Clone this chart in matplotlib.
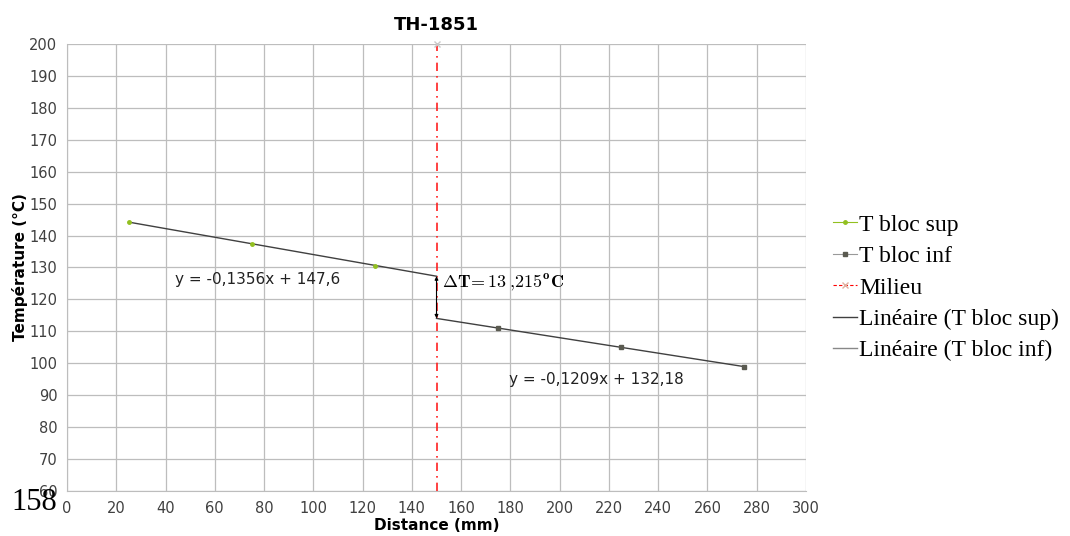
import matplotlib
matplotlib.use("Agg")
import matplotlib.pyplot as plt
from matplotlib.lines import Line2D
import numpy as np

# data
x_sup = [25, 75, 125]
t_sup = [144.2, 137.4, 130.6]
x_inf = [175, 225, 275]
t_inf = [111.0, 105.0, 98.9]
x_milieu = 150
fit_sup = (-0.1356, 147.6)
fit_inf = (-0.1209, 132.18)
x_ticks = list(range(0, 301, 20))
y_ticks = list(range(60, 201, 10))

plt.rcParams['mathtext.fontset'] = 'cm'

fig = plt.figure(figsize=(10.7, 5.36), dpi=100)
ax = fig.add_axes([0.0626, 0.084, 0.6907, 0.834])

c_sup = '#92c020'
c_inf = '#5a5a50'
c_fit = '#404040'

ax.plot(x_sup, t_sup, color=c_sup, marker='o', markersize=2.5,
        linestyle='none', zorder=4)
ax.plot(x_inf, t_inf, color=c_inf, marker='s', markersize=3.5,
        linestyle='none', zorder=4)
ax.plot([x_milieu, x_milieu], [60, 200], color='#ff2020', linestyle=(0, (5, 3, 1, 3)),
        lw=1.2, zorder=3)
ax.plot([x_milieu], [200], marker='x', color='#c8c8c8', markersize=5,
        linestyle='none', zorder=5, clip_on=False)

# trend lines
xs = np.array([x_sup[0], x_milieu])
ax.plot(xs, fit_sup[0] * xs + fit_sup[1], color=c_fit, lw=1.0, zorder=3)
xi = np.array([x_milieu, x_inf[-1]])
ax.plot(xi, fit_inf[0] * xi + fit_inf[1], color=c_fit, lw=1.0, zorder=3)

# delta T arrow
y_top = fit_sup[0] * x_milieu + fit_sup[1]
y_bot = fit_inf[0] * x_milieu + fit_inf[1]
ax.annotate('', xy=(x_milieu, y_bot), xytext=(x_milieu, y_top),
            arrowprops=dict(arrowstyle='<|-|>', color='black', lw=0.8,
                            mutation_scale=5, shrinkA=0, shrinkB=0), zorder=6)
ax.text(152.2, 125.1, r'$\mathbf{\Delta T\!=13\;{,}215^{o}C}$', fontsize=13,
        va='center', ha='left', zorder=6)

ax.text(44, 126.3, 'y = -0,1356x + 147,6', fontsize=11, color='#222222',
        va='center')
ax.text(179.5, 94.8, 'y = -0,1209x + 132,18', fontsize=11, color='#222222',
        va='center')

ax.set_xlim(0, 300)
ax.set_ylim(60, 200)
ax.set_xticks(x_ticks)
ax.set_yticks(y_ticks)
ax.tick_params(length=0, labelsize=10.5, colors='#404040', pad=7)
ax.grid(True, color='#bdbdbd', lw=0.9)
ax.set_axisbelow(True)
for s in ['top', 'right']:
    ax.spines[s].set_visible(False)
for s in ['left', 'bottom']:
    ax.spines[s].set_color('#bdbdbd')

ax.set_title('TH-1851', fontsize=13, fontweight='bold', pad=10)
ax.set_xlabel('Distance (mm)', fontsize=11, fontweight='bold', labelpad=2)
ax.set_ylabel('Température (°C)', fontsize=11, fontweight='bold', labelpad=1)

# legend with short segments like the spreadsheet legend
handles = [
    Line2D([], [], color=c_sup, marker='o', markersize=2.5, lw=0.8),
    Line2D([], [], color='#999999', marker='s', markersize=3.5, lw=0.8,
           markerfacecolor=c_inf, markeredgecolor=c_inf),
    Line2D([], [], color='red', linestyle=(0, (3, 2)), marker='x',
           markersize=4, markeredgecolor='#e0b0a0', lw=0.8),
    Line2D([], [], color=c_fit, lw=1.0),
    Line2D([], [], color='#888888', lw=1.0),
]
labels = ['T bloc sup', 'T bloc inf', 'Milieu', 'Linéaire (T bloc sup)',
          'Linéaire (T bloc inf)']
fig.legend(handles, labels, loc='center left', bbox_to_anchor=(0.770, 0.463),
           frameon=False, handlelength=1.0, handletextpad=0.1,
           borderaxespad=0.0, labelspacing=0.42,
           prop={'family': 'Liberation Serif', 'size': 17})

fig.text(0.011, 0.063, '158', fontsize=22, family='Liberation Serif', va='center')

fig.savefig('out.png', dpi=100)
